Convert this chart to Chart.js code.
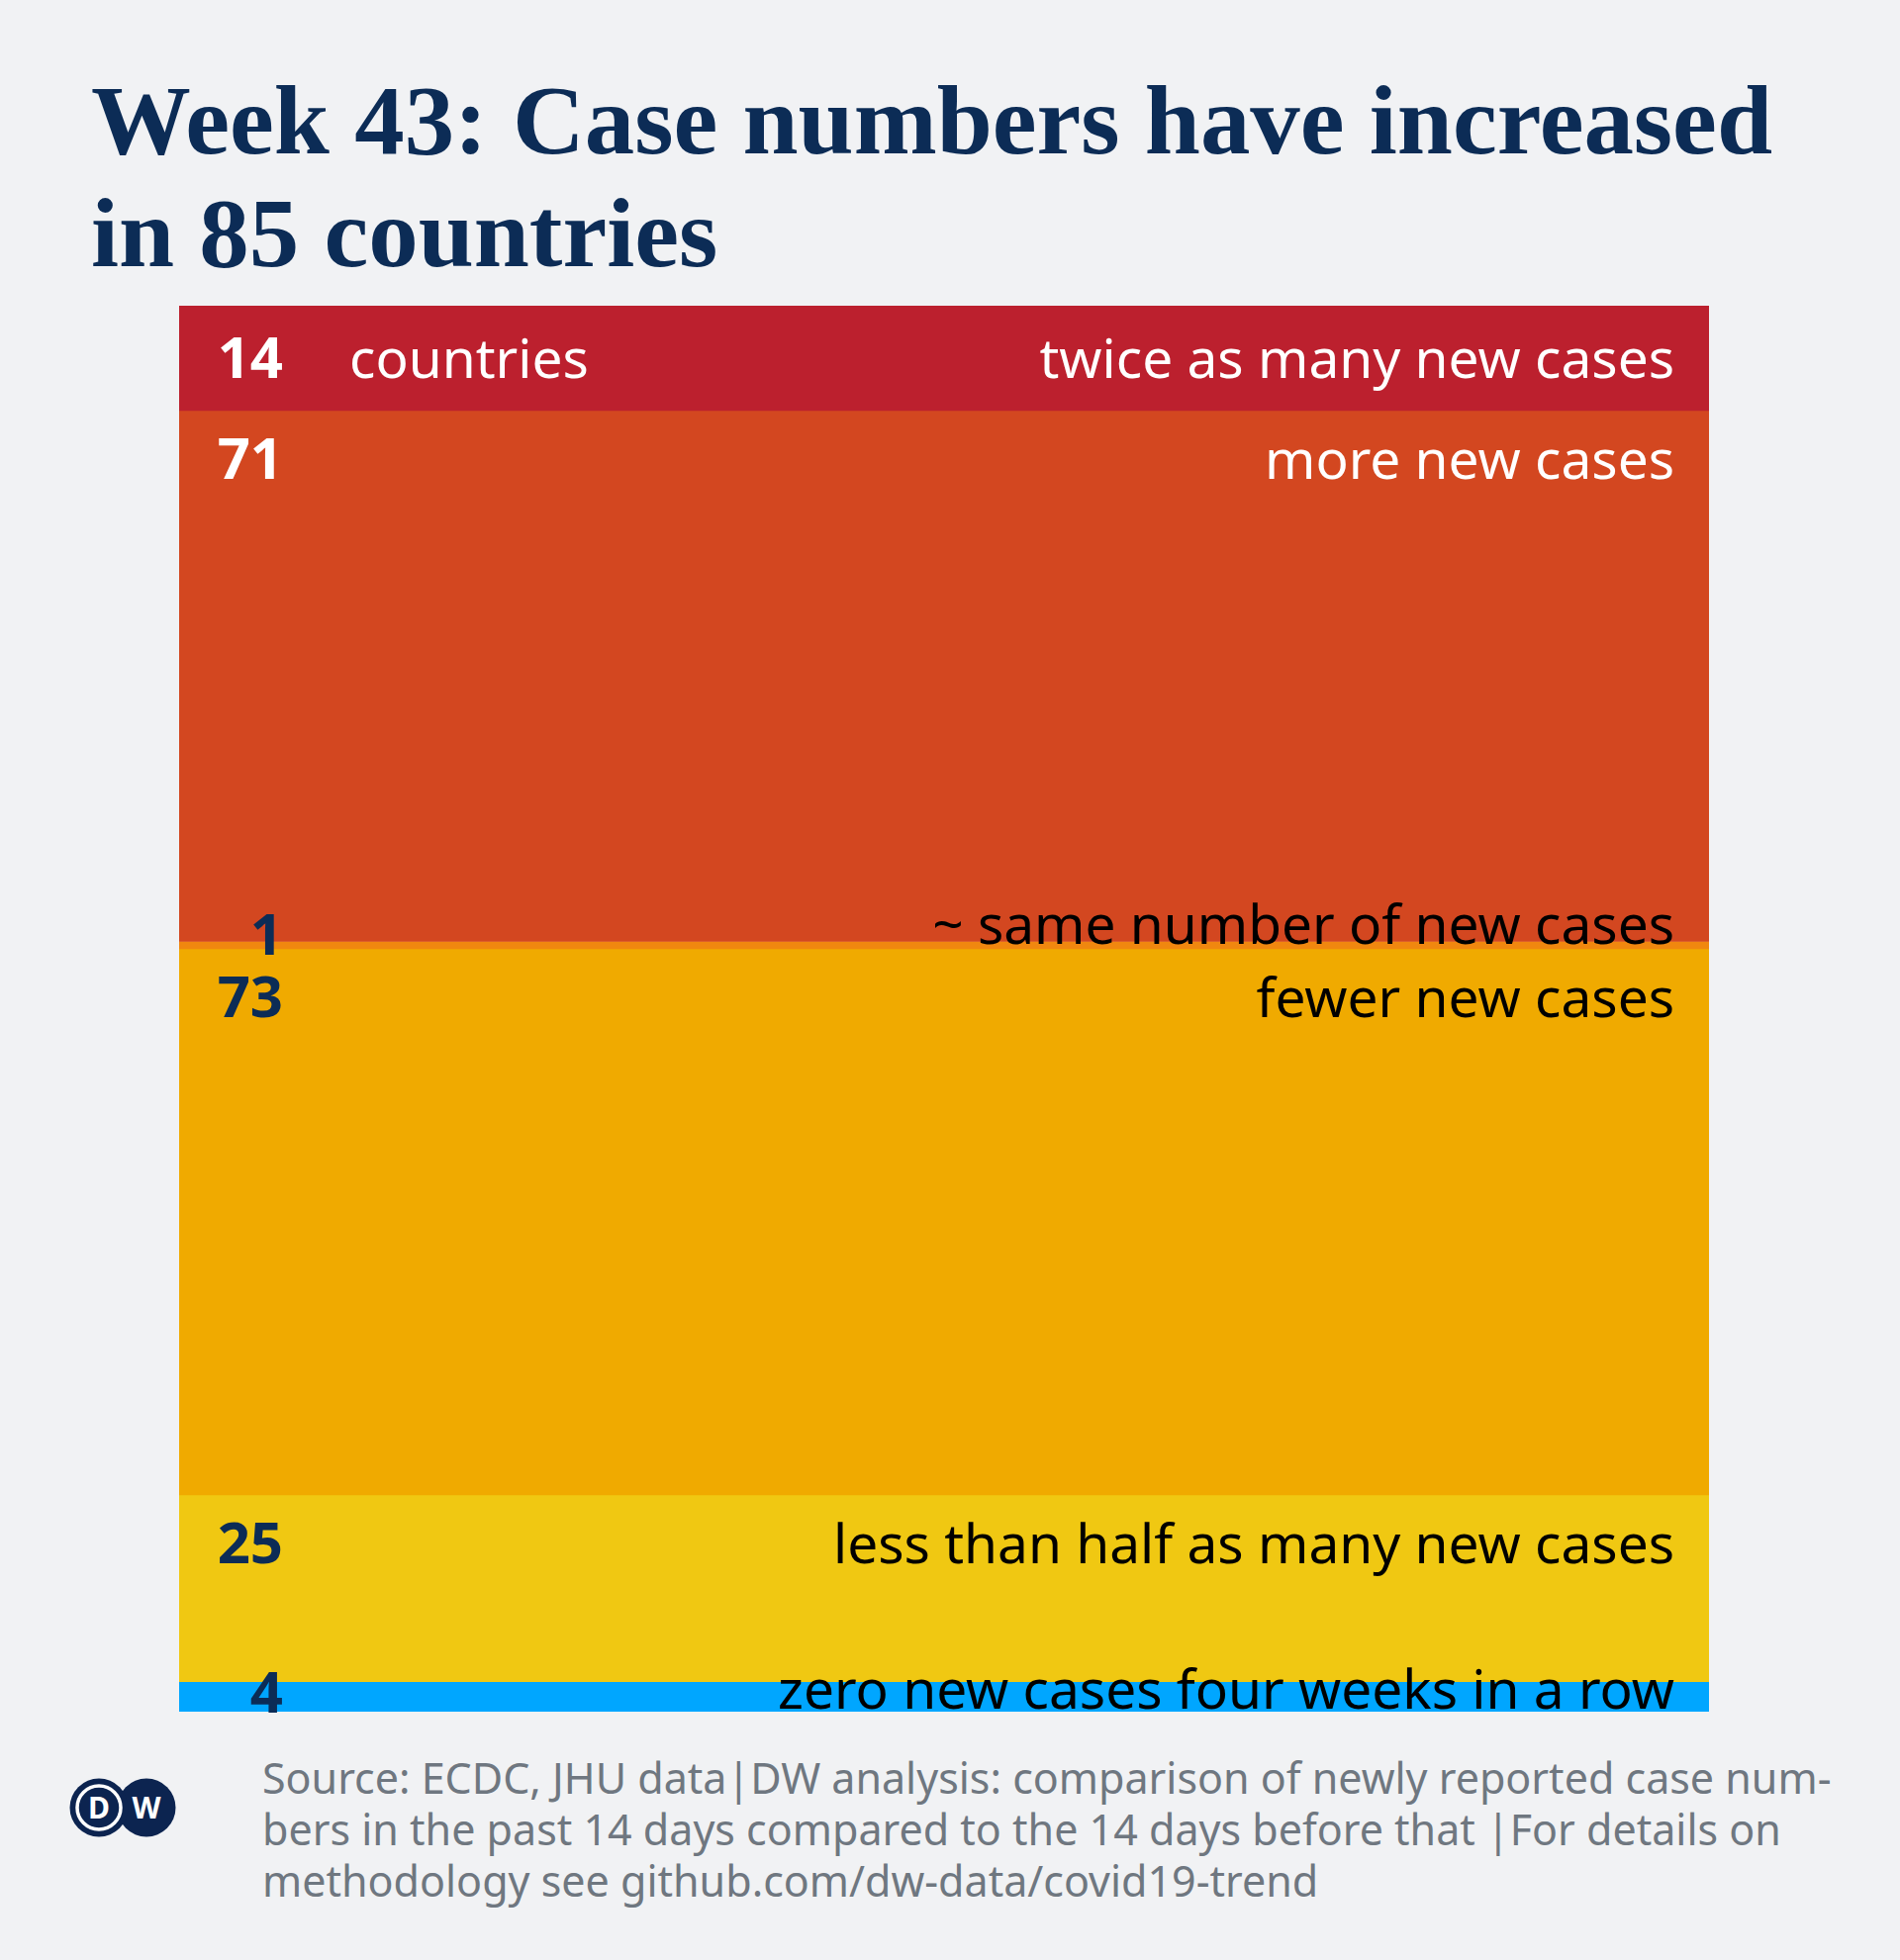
<!DOCTYPE html>
<html>
<head>
<meta charset="utf-8">
<script src="https://cdn.jsdelivr.net/npm/chart.js@4/dist/chart.umd.min.js"></script>
<style>
  html, body { margin: 0; padding: 0; }
  body { width: 1920px; height: 1981px; background: #f1f2f4; position: relative; overflow: hidden; }
  #title { position: absolute; left: 92px; top: 65px; margin: 0; font-family: "Liberation Serif", serif; font-weight: bold; font-size: 100px; line-height: 114px; color: #0c2c56; white-space: nowrap; transform-origin: 0 0; }
  #wrap { position: absolute; left: 0; top: 290px; width: 1920px; height: 1470px; }
  #footer { position: absolute; left: 265px; top: 1771px; font-family: "Noto Sans", sans-serif; font-size: 43px; line-height: 52px; color: #6f7780; white-space: nowrap; }
  #logo { position: absolute; left: 70px; top: 1797px; }
</style>
</head>
<body>
<div id="title"><span id="t1">Week 43: Case numbers have increased</span><br><span>in 85 countries</span></div>
<div id="wrap"><canvas id="c" width="1920" height="1470"></canvas></div>
<svg id="logo" width="110" height="62" viewBox="0 0 110 62">
  <circle cx="78" cy="30" r="29.5" fill="#0c2450"/>
  <text x="78" y="41" text-anchor="middle" font-family="Noto Sans, sans-serif" font-weight="bold" font-size="30" fill="#fff">W</text>
  <circle cx="30" cy="30" r="29.5" fill="#0c2450"/>
  <circle cx="30" cy="30" r="22" fill="none" stroke="#fff" stroke-width="3.5"/>
  <text x="30" y="41" text-anchor="middle" font-family="Noto Sans, sans-serif" font-weight="bold" font-size="30" fill="#fff">D</text>
</svg>
<div id="footer">Source: ECDC, JHU data|DW analysis: comparison of newly reported case num-<br>bers in the past 14 days compared to the 14 days before that |For details on<br>methodology see github.com/dw-data/covid19-trend</div>
<script>
// ---- data ----
const categories = [
  'twice as many new cases',
  'more new cases',
  '~ same number of new cases',
  'fewer new cases',
  'less than half as many new cases',
  'zero new cases four weeks in a row'
];
const counts = [14, 71, 1, 73, 25, 4];
const unitLabel = 'countries';
// ---- styles ----
const bandColors = ['#bc202e', '#d34720', '#f0870f', '#f0aa00', '#f0c812', '#00a6ff'];
const numberColors = ['#ffffff', '#ffffff', '#0c2c56', '#0c2c56', '#0c2c56', '#0c2c56'];
const textColors = ['#ffffff', '#ffffff', '#000000', '#000000', '#000000', '#000000'];

// fit title width
(function () {
  const t1 = document.getElementById('t1');
  const w = t1.getBoundingClientRect().width;
  const target = 1699;
  document.getElementById('title').style.transform = 'scaleX(' + (target / w) + ')';
})();

const total = counts.reduce((a, b) => a + b, 0);

const labelPlugin = {
  id: 'bandLabels',
  afterDatasetsDraw(chart) {
    const ctx = chart.ctx;
    const area = chart.chartArea;
    ctx.save();
    ctx.textBaseline = 'alphabetic';
    chart.data.datasets.forEach((ds, i) => {
      const el = chart.getDatasetMeta(i).data[0];
      const top = Math.min(el.y, el.base);
      const bottom = Math.max(el.y, el.base);
      const h = bottom - top;
      let numY, txtY;
      if (h >= 60) {
        numY = top + (h < 120 ? 73 : 69);
        txtY = numY;
      } else {
        numY = top + Math.max(h + 1, 14);
        txtY = numY - (h < 12 ? 11 : 4);
      }
      ctx.fillStyle = numberColors[i];
      ctx.font = 'bold 58px "Noto Sans"';
      ctx.textAlign = 'right';
      ctx.fillText(String(counts[i]), area.left + 105, numY);
      ctx.fillStyle = textColors[i];
      ctx.font = '55px "Noto Sans"';
      ctx.textAlign = 'right';
      ctx.fillText(categories[i], area.right - 35, txtY);
      if (i === 0) {
        ctx.textAlign = 'left';
        ctx.fillText(unitLabel, area.left + 172, txtY);
      }
    });
    ctx.restore();
  }
};

new Chart(document.getElementById('c'), {
  type: 'bar',
  data: {
    labels: ['all'],
    datasets: counts.map((v, i) => ({
      label: categories[i],
      data: [v],
      backgroundColor: bandColors[i],
      borderWidth: 0,
      barPercentage: 1,
      categoryPercentage: 1
    }))
  },
  options: {
    responsive: false,
    animation: false,
    devicePixelRatio: 1,
    layout: { padding: { left: 181, right: 193, top: 19, bottom: 30 } },
    scales: {
      x: { stacked: true, display: false },
      y: { stacked: true, display: false, reverse: true, min: 0, max: total }
    },
    plugins: { legend: { display: false }, tooltip: { enabled: false }, title: { display: false } }
  },
  plugins: [labelPlugin]
});
</script>
</body>
</html>
